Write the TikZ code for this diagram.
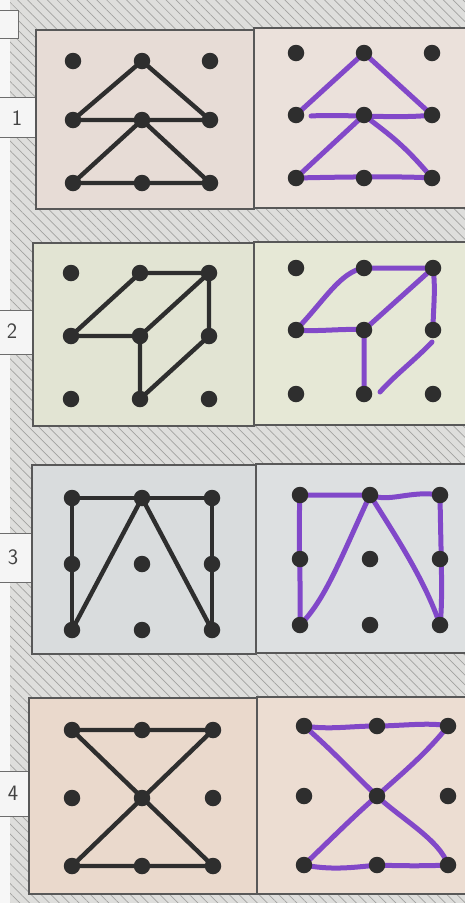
\documentclass[tikz,border=0pt]{standalone}
\usetikzlibrary{patterns.meta}
\pgfdeclarelayer{bg}\pgfdeclarelayer{ink}
\pgfsetlayers{bg,ink,main}
\definecolor{dotc}{HTML}{2E2E2E}
\definecolor{pen}{HTML}{7A3CC8}
\definecolor{hatchbg}{HTML}{DEDEDC}
\definecolor{hatchln}{HTML}{A2A2A0}
\definecolor{pinkA}{HTML}{E7DCD6}
\definecolor{pinkB}{HTML}{EBE1DB}
\definecolor{yelA}{HTML}{E2E4D3}
\definecolor{yelB}{HTML}{E6E8D6}
\definecolor{gryA}{HTML}{D9DCDD}
\definecolor{gryB}{HTML}{DDE0E1}
\definecolor{pchA}{HTML}{EAD9CC}
\definecolor{pchB}{HTML}{ECDDD2}
\newcommand\dotgrid[7]{%
  \foreach \cc/\xx in {0/#2,1/#3,2/#4}{%
    \foreach \rr/\yy in {0/#5,1/#6,2/#7}{%
      \node[gdot] (#1-\rr\cc) at (\xx,\yy) {};}}}
\begin{document}
\begin{tikzpicture}[x=1pt,y=-1pt,
  gdot/.style={circle,fill=dotc,inner sep=0pt,minimum size=16.5pt},
  blk/.style={draw=dotc,line width=4.4pt,line join=round,line cap=round},
  mk/.style={draw=pen,line width=5pt,line join=round,line cap=round,opacity=0.92},
  panel/.style={draw=dotc!80,line width=1.4pt},
  lbl/.style={draw=dotc!70,line width=1pt,fill=white!92!gray},
  num/.style={font=\sffamily\fontsize{22}{22}\selectfont,text=dotc!90}]
\useasboundingbox (0,0) rectangle (465,903);
\begin{pgfonlayer}{bg}
  \fill[white!94!gray] (0,0) rectangle (465,903);
  \fill[hatchbg] (10,0) rectangle (465,903);
  \fill[pattern={Lines[angle=-45,distance=7pt,line width=0.7pt]},pattern color=hatchln] (10,0) rectangle (465,903);
  % top-left small box
  \filldraw[lbl] (-2,10) rectangle (18,38);
  % label boxes
  \filldraw[lbl] (-2,97) rectangle (36,137);
  \filldraw[lbl] (-2,310) rectangle (33,354);
  \filldraw[lbl] (-2,533) rectangle (32,582);
  \filldraw[lbl] (-2,771) rectangle (29,816);
  % panels
  \filldraw[panel,fill=pinkA] (36,30) rectangle (254,209);
  \filldraw[panel,fill=pinkB] (254,28) rectangle (470,208);
  \filldraw[panel,fill=yelA] (33,243) rectangle (254,426);
  \filldraw[panel,fill=yelB] (254,242) rectangle (470,425);
  \filldraw[panel,fill=gryA] (32,465) rectangle (256,654);
  \filldraw[panel,fill=gryB] (256,464) rectangle (470,653);
  \filldraw[panel,fill=pchA] (29,698) rectangle (257,894);
  \filldraw[panel,fill=pchB] (257,697) rectangle (470,894);
\end{pgfonlayer}
% labels
\node[num] (n1) at (17,118) {1};
\node[num] (n2) at (12,331) {2};
\node[num] (n3) at (13,557) {3};
\node[num] (n4) at (13,793) {4};
% dot grids
\dotgrid{a}{73}{142}{210}{61}{120}{183}
\dotgrid{b}{296}{364}{432}{53}{115}{178}
\dotgrid{c}{71}{140}{209}{273}{336}{399}
\dotgrid{d}{296}{364}{433}{268}{330}{394}
\dotgrid{e}{72}{142}{212}{498}{564}{630}
\dotgrid{f}{300}{370}{440}{495}{559}{625}
\dotgrid{g}{72}{142}{213}{730}{798}{866}
\dotgrid{h}{304}{377}{448}{726}{796}{865}
\coordinate (b-start) at (311,116);
\coordinate (d-start) at (432,342);
\coordinate (d-end) at (380,392);
\begin{pgfonlayer}{ink}
  % panel 1
  \draw[blk] (a-01.center) -- (a-10.center) -- (a-12.center) -- cycle;
  \draw[blk] (a-11.center) -- (a-20.center) -- (a-22.center) -- cycle;
  \draw[mk] (b-10.center) -- (b-01.center) -- (b-12.center);
  \draw[mk] (b-start) .. controls (340,114) and (400,119) .. (b-12.center);
  \draw[mk] (b-11.center) -- (b-20.center) .. controls (340,177) and (400,176) .. (b-22.center);
  \draw[mk] (b-11.center) .. controls (385,132) and (400,140) .. (b-22.center);
  % panel 2
  \draw[blk] (c-10.center) -- (c-01.center) -- (c-02.center) -- (c-11.center) -- cycle;
  \draw[blk] (c-02.center) -- (c-12.center) -- (c-21.center) -- (c-11.center);
  \draw[mk] (d-10.center) .. controls (325,300) and (340,272) .. (d-01.center) -- (d-02.center);
  \draw[mk] (d-02.center) -- (d-11.center);
  \draw[mk] (d-10.center) .. controls (320,332) and (345,328) .. (d-11.center) -- (d-21.center);
  \draw[mk] (d-02.center) .. controls (436,290) and (433,310) .. (d-12.center);
  \draw[mk] (d-start) .. controls (415,360) and (395,375) .. (d-end);
  % panel 3
  \draw[blk] (e-20.center) -- (e-00.center) -- (e-02.center) -- (e-22.center);
  \draw[blk] (e-20.center) -- (e-01.center) -- (e-22.center);
  \draw[mk] (f-20.center) .. controls (301,580) and (298,540) .. (f-00.center) -- (f-01.center);
  \draw[mk] (f-01.center) .. controls (390,503) and (410,490) .. (f-02.center);
  \draw[mk] (f-02.center) .. controls (441,560) and (443,600) .. (f-22.center);
  \draw[mk] (f-20.center) .. controls (325,600) and (340,560) .. (f-01.center);
  \draw[mk] (f-01.center) .. controls (395,535) and (425,580) .. (f-22.center);
  % panel 4
  \draw[blk] (g-00.center) -- (g-02.center) -- (g-20.center) -- (g-22.center) -- cycle;
  \draw[mk] (h-00.center) .. controls (330,730) and (350,726) .. (h-01.center) .. controls (400,726) and (430,722) .. (h-02.center);
  \draw[mk] (h-02.center) .. controls (425,755) and (400,775) .. (h-11.center) .. controls (355,815) and (330,840) .. (h-20.center);
  \draw[mk] (h-00.center) .. controls (330,748) and (355,775) .. (h-11.center) .. controls (400,818) and (440,840) .. (h-22.center);
  \draw[mk] (h-20.center) .. controls (330,870) and (350,868) .. (h-21.center) .. controls (400,866) and (430,866) .. (h-22.center);
\end{pgfonlayer}
\end{tikzpicture}
\end{document}
